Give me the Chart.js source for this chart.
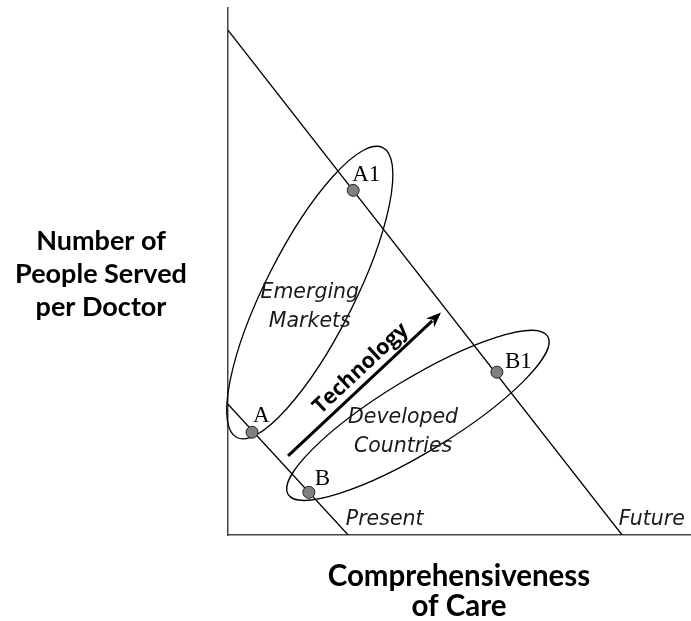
<!DOCTYPE html>
<html>
<head>
<meta charset="utf-8">
<script src="https://cdn.jsdelivr.net/npm/chart.js@4.4.1/dist/chart.umd.min.js"></script>
<style>
html,body{margin:0;padding:0;background:#fff;}
#wrap{width:691px;height:621px;}
</style>
</head>
<body>
<div id="wrap"><canvas id="c" width="691" height="621"></canvas></div>
<script>
// ---- data (diagram units: 0..100 on both axes) ----
const presentLine = [{x:0, y:24.8}, {x:26.0, y:0}];
const futureLine  = [{x:0, y:95.8}, {x:85.3, y:0}];
const pointNames  = ['A', 'B', 'A1', 'B1'];
const pointX      = [5.2, 17.5, 27.1, 58.2];
const pointY      = [19.5, 8.1, 65.4, 30.9];
const lineNames   = ['Present', 'Future'];
const lineLabelX  = [25.5, 84.6];
const lineLabelY  = [3.0, 3.0];
const groupNames  = [['Emerging','Markets'], ['Developed','Countries']];
// ellipse: centre, end of long axis, end of short axis (data units)
const groupCentre = [{x:17.7, y:46.0}, {x:41.1, y:22.7}];
const groupMajor  = [{x:33.5, y:73.5}, {x:69.2, y:37.7}];
const groupMinor  = [{x:26.3, y:42.2}, {x:45.3, y:16.8}];
const groupText   = [{x:17.7, y:43.3}, {x:37.9, y:19.6}];
const arrowFrom   = {x:13.0, y:15.0};
const arrowTo     = {x:46.1, y:42.2};
const arrowLabel  = 'Technology';
const yTitle      = ['Number of', 'People Served', 'per Doctor'];
const xTitle      = ['Comprehensiveness', 'of Care'];

const ITALIC_FONT = 'italic 20.5px "DejaVu Sans"';
const labelOffsets = [[1,-10],[6,-7],[-1,-9],[8,-4]];

const points = pointX.map((x,i)=>({x, y:pointY[i]}));

const diagramPlugin = {
  id:'diagram',
  beforeDatasetsDraw(chart){
    const {ctx, scales:{x:sx, y:sy}} = chart;
    const P = p => ({x: sx.getPixelForValue(p.x), y: sy.getPixelForValue(p.y)});
    ctx.save();
    // ellipses
    ctx.strokeStyle = '#000'; ctx.lineWidth = 1.3;
    groupCentre.forEach((c,i)=>{
      const pc = P(c), pa = P(groupMajor[i]), pb = P(groupMinor[i]);
      const a = Math.hypot(pa.x-pc.x, pa.y-pc.y);
      const b = Math.hypot(pb.x-pc.x, pb.y-pc.y);
      const ang = Math.atan2(pa.y-pc.y, pa.x-pc.x);
      ctx.beginPath(); ctx.ellipse(pc.x, pc.y, a, b, ang, 0, Math.PI*2); ctx.stroke();
    });
    // arrow
    const f = P(arrowFrom), t = P(arrowTo);
    const ang = Math.atan2(t.y-f.y, t.x-f.x);
    const hl = 15, hw = 6;
    ctx.lineWidth = 3; ctx.strokeStyle = '#000'; ctx.fillStyle='#000';
    ctx.beginPath(); ctx.moveTo(f.x,f.y);
    ctx.lineTo(t.x - Math.cos(ang)*hl*0.8, t.y - Math.sin(ang)*hl*0.8); ctx.stroke();
    ctx.beginPath();
    ctx.moveTo(t.x,t.y);
    ctx.lineTo(t.x - Math.cos(ang)*hl - Math.sin(ang)*hw, t.y - Math.sin(ang)*hl + Math.cos(ang)*hw);
    ctx.lineTo(t.x - Math.cos(ang)*hl*0.7, t.y - Math.sin(ang)*hl*0.7);
    ctx.lineTo(t.x - Math.cos(ang)*hl + Math.sin(ang)*hw, t.y - Math.sin(ang)*hl - Math.cos(ang)*hw);
    ctx.closePath(); ctx.fill();
    // arrow label
    const mx = (f.x+t.x)/2, my = (f.y+t.y)/2;
    ctx.save();
    ctx.translate(mx, my); ctx.rotate(ang);
    ctx.font = 'bold 21.5px "Open Sans"'; ctx.textAlign='center'; ctx.textBaseline='middle';
    ctx.fillText(arrowLabel, 8, -14);
    ctx.restore();
    // group labels
    ctx.font = ITALIC_FONT; ctx.fillStyle = '#1a1a1a'; ctx.textAlign='center'; ctx.textBaseline='middle';
    groupText.forEach((g,i)=>{
      const p = P(g);
      ctx.fillText(groupNames[i][0], p.x, p.y-14.5);
      ctx.fillText(groupNames[i][1], p.x, p.y+14.5);
    });
    // line labels
    ctx.textAlign='left';
    lineNames.forEach((n,i)=>{
      const p = P({x:lineLabelX[i], y:lineLabelY[i]});
      ctx.fillText(n, p.x, p.y);
    });
    ctx.restore();
  },
  afterDatasetsDraw(chart){
    const {ctx, scales:{x:sx, y:sy}} = chart;
    ctx.save();
    ctx.font = '23px "Liberation Serif"'; ctx.fillStyle='#000';
    ctx.textAlign='left'; ctx.textBaseline='alphabetic';
    pointNames.forEach((n,i)=>{
      const px = sx.getPixelForValue(pointX[i]), py = sy.getPixelForValue(pointY[i]);
      ctx.fillText(n, px+labelOffsets[i][0], py+labelOffsets[i][1]);
    });
    // y title (horizontal, left of axis)
    ctx.font = 'bold 27px Lato'; ctx.textAlign='center'; ctx.textBaseline='alphabetic';
    yTitle.forEach((s,i)=> ctx.fillText(s, 101, 250 + i*33));
    ctx.restore();
  }
};

new Chart(document.getElementById('c'), {
  type:'scatter',
  data:{
    datasets:[
      {label:'Present', data:presentLine, showLine:true, borderColor:'#000', borderWidth:1.3, pointRadius:0, pointHoverRadius:0, order:2},
      {label:'Future', data:futureLine, showLine:true, borderColor:'#000', borderWidth:1.3, pointRadius:0, pointHoverRadius:0, order:2},
      {label:'Points', data:points, showLine:false, pointRadius:6, pointBackgroundColor:'#808080', pointBorderColor:'#222', pointBorderWidth:1, order:1}
    ]
  },
  options:{
    responsive:false, animation:false, devicePixelRatio:1,
    layout:{autoPadding:false, padding:{left:228, top:8, right:1, bottom:0}},
    plugins:{legend:{display:false}, tooltip:{enabled:false}},
    scales:{
      x:{type:'linear', min:0, max:100,
         ticks:{display:false}, grid:{display:false, drawTicks:false},
         border:{display:true, color:'#444', width:1.5},
         title:{display:true, text:xTitle, color:'#000', font:{family:'Lato', size:29.5, weight:'bold', lineHeight:1.0}, padding:{top:27, bottom:0}}},
      y:{type:'linear', min:0, max:100,
         ticks:{display:false}, grid:{display:false, drawTicks:false},
         border:{display:true, color:'#444', width:1.5}}
    }
  },
  plugins:[diagramPlugin]
});
</script>
</body>
</html>
